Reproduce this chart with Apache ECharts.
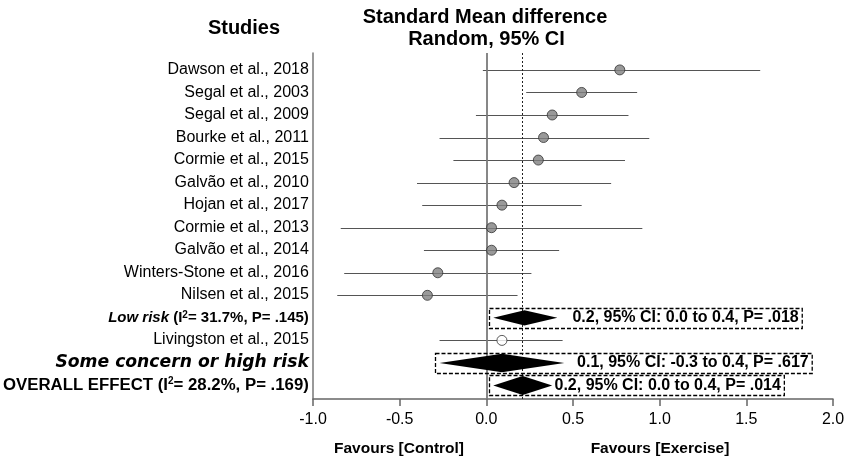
<!DOCTYPE html>
<html><head><meta charset="utf-8">
<script src="https://cdn.jsdelivr.net/npm/echarts@6/dist/echarts.min.js"></script>
<style>html,body{margin:0;padding:0;background:#fff}#c{width:854px;height:461px}</style>
</head><body><div id="c"></div>
<script>
// ---------- data ----------
const rowLabels = [
  'Dawson et al., 2018', 'Segal et al., 2003', 'Segal et al., 2009', 'Bourke et al., 2011',
  'Cormie et al., 2015', 'Galvão et al., 2010', 'Hojan et al., 2017', 'Cormie et al., 2013',
  'Galvão et al., 2014', 'Winters-Stone et al., 2016', 'Nilsen et al., 2015',
  'Low risk', 'Livingston et al., 2015', 'Some concern or high risk', 'OVERALL EFFECT'
];
const hetI2 = {11: '31.7%', 14: '28.2%'};
const hetP = {11: '.145', 14: '.169'};
const italicRows = [11, 13];
const boldRows = [11, 13, 14];

const studyRows = [0, 1, 2, 3, 4, 5, 6, 7, 8, 9, 10, 12];
const studyEst  = [0.77, 0.55, 0.38, 0.33, 0.30, 0.16, 0.09, 0.03, 0.03, -0.28, -0.34, 0.09];
const studyLow  = [-0.02, 0.23, -0.06, -0.27, -0.19, -0.40, -0.37, -0.84, -0.36, -0.82, -0.86, -0.27];
const studyHigh = [1.58, 0.87, 0.82, 0.94, 0.80, 0.72, 0.55, 0.90, 0.42, 0.26, 0.18, 0.44];
const studyHighRisk = [false, false, false, false, false, false, false, false, false, false, false, true];

const pooledRows = [11, 13, 14];
const pooledEst  = [0.22, 0.09, 0.21];
const pooledLow  = [0.04, -0.27, 0.04];
const pooledHigh = [0.41, 0.45, 0.38];
const pooledText = [
  '0.2, 95% CI: 0.0 to 0.4, P= .018',
  '0.1, 95% CI: -0.3 to 0.4, P= .617',
  '0.2, 95% CI: 0.0 to 0.4, P= .014'
];
const overallEffect = pooledEst[2];

const axisMin = -1.0, axisMax = 2.0, axisStep = 0.5;

// ---------- layout / style (not data) ----------
const FONT = '"Liberation Sans", Arial, sans-serif';
const WIDE = '"DejaVu Sans", sans-serif';
const rowFontSize = {11: 15, 13: 17.2, 14: 16.8};
const rowFontFamily = {11: FONT, 13: WIDE, 14: FONT};
const diamondHalf = [7.7, 9.2, 9.5];
const textGap = [15, 12.7, 2.3];
const boxFont = 'bold 16px "Liberation Sans", Arial, sans-serif';
const mctx = document.createElement('canvas').getContext('2d');
mctx.font = boxFont;

const chart = echarts.init(document.getElementById('c'), null, {renderer: 'canvas'});

function labelFormatter(value, index) {
  const sfx = rowFontSize[index] ? String(index) : '';
  let s;
  if (italicRows.includes(index)) s = '{bi' + sfx + '|' + value + '}';
  else if (boldRows.includes(index)) s = '{b' + sfx + '|' + value + '}';
  else s = '{r|' + value + '}';
  if (hetI2[index]) {
    s += '{b' + sfx + '| (I}{sup|2}{b' + sfx + '|= ' + hetI2[index] + ', P= ' + hetP[index] + ')}';
  }
  return s;
}

const rich = {
  r: {fontSize: 16, color: '#000', fontFamily: FONT},
  sup: {fontSize: 10, color: '#000', fontWeight: 'bold', fontFamily: FONT, verticalAlign: 'top', lineHeight: 10}
};
Object.keys(rowFontSize).forEach(k => {
  rich['b' + k] = {fontSize: rowFontSize[k], color: '#000', fontWeight: 'bold', fontFamily: rowFontFamily[k]};
  rich['bi' + k] = {fontSize: rowFontSize[k], color: '#000', fontWeight: 'bold', fontStyle: 'italic', fontFamily: rowFontFamily[k]};
});

const option = {
  animation: false,
  backgroundColor: '#fff',
  textStyle: {fontFamily: FONT},
  grid: [
    {left: 313, right: 21, top: 53, bottom: 62},
    {left: 313, right: 21, top: 58.75, height: 337.5}
  ],
  xAxis: [
    {
      gridIndex: 0, type: 'value', min: axisMin, max: axisMax, interval: axisStep,
      axisLine: {onZero: false, lineStyle: {color: '#666', width: 1.5}},
      axisTick: {length: 7, lineStyle: {color: '#666', width: 1.5}},
      axisLabel: {fontSize: 16, color: '#000', margin: 13, fontFamily: FONT,
        formatter: v => v.toFixed(1)},
      splitLine: {show: false}
    },
    {gridIndex: 1, type: 'value', min: axisMin, max: axisMax, show: false}
  ],
  yAxis: [
    {
      gridIndex: 0, type: 'value', min: -0.75, max: 14.6, inverse: true,
      axisLine: {show: true, onZero: false, lineStyle: {color: '#777', width: 1.5}},
      axisTick: {show: false}, axisLabel: {show: false}, splitLine: {show: false}
    },
    {
      gridIndex: 1, type: 'category', data: rowLabels, inverse: true,
      axisLine: {show: false}, axisTick: {show: false}, splitLine: {show: false},
      axisLabel: {interval: 0, margin: 6, formatter: labelFormatter, rich: rich}
    }
  ],
  graphic: [
    {type: 'text', x: 244, y: 28.5, style: {text: 'Studies', fontSize: 20, fontWeight: 'bold', fontFamily: FONT, fill: '#000', align: 'center', verticalAlign: 'middle'}},
    {type: 'text', x: 485, y: 17, style: {text: 'Standard Mean difference', fontSize: 20, fontWeight: 'bold', fontFamily: FONT, fill: '#000', align: 'center', verticalAlign: 'middle'}},
    {type: 'text', x: 486.5, y: 39.5, style: {text: 'Random, 95% CI', fontSize: 20, fontWeight: 'bold', fontFamily: FONT, fill: '#000', align: 'center', verticalAlign: 'middle'}},
    {type: 'text', x: 399, y: 448.5, style: {text: 'Favours [Control]', fontSize: 15.5, fontWeight: 'bold', fontFamily: FONT, fill: '#000', align: 'center', verticalAlign: 'middle'}},
    {type: 'text', x: 660, y: 448.5, style: {text: 'Favours [Exercise]', fontSize: 15.5, fontWeight: 'bold', fontFamily: FONT, fill: '#000', align: 'center', verticalAlign: 'middle'}}
  ],
  series: [
    {
      name: 'ci', type: 'custom', xAxisIndex: 0, yAxisIndex: 0, silent: true, z: 2,
      data: studyRows.map((r, i) => [studyLow[i], studyHigh[i], r]),
      encode: {x: [0, 1], y: 2},
      renderItem: function (params, api) {
        const a = api.coord([api.value(0), api.value(2)]);
        const b = api.coord([api.value(1), api.value(2)]);
        const y = Math.round(a[1]) + 0.5;
        return {type: 'line', shape: {x1: a[0], y1: y, x2: b[0], y2: y},
          style: {stroke: '#555', lineWidth: 1.2}};
      }
    },
    {
      name: 'refs', type: 'line', xAxisIndex: 0, yAxisIndex: 0, data: [], z: 3, silent: true,
      markLine: {
        silent: true, symbol: 'none', label: {show: false},
        data: [
          {xAxis: 0, lineStyle: {color: '#7a7a7a', width: 1.8, type: 'solid'}},
          {xAxis: overallEffect, lineStyle: {color: '#222', width: 1, type: [2, 2]}}
        ]
      }
    },
    {
      name: 'studies', type: 'scatter', xAxisIndex: 0, yAxisIndex: 0, z: 5, symbol: 'circle', symbolSize: 10,
      data: studyRows.map((r, i) => ({
        value: [studyEst[i], r],
        itemStyle: {color: studyHighRisk[i] ? '#ffffff' : '#808080', borderColor: '#333', borderWidth: 1}
      }))
    },
    {
      name: 'pooled', type: 'custom', xAxisIndex: 0, yAxisIndex: 0, silent: true, z: 6,
      data: pooledRows.map((r, i) => [pooledLow[i], pooledEst[i], pooledHigh[i], r, i]),
      encode: {x: [0, 1, 2], y: 3},
      renderItem: function (params, api) {
        const row = api.value(3), k = api.value(4);
        const lo = api.coord([api.value(0), row]);
        const c = api.coord([api.value(1), row]);
        const hi = api.coord([api.value(2), row]);
        const h = diamondHalf[k];
        const txt = pooledText[k];
        const tx = hi[0] + textGap[k];
        const tw = mctx.measureText(txt).width;
        const bx = Math.round(lo[0] - 4.5) + 0.5;
        const bt = Math.round(c[1] - 10) + 0.5;
        return {
          type: 'group',
          children: [
            {type: 'polygon', shape: {points: [[lo[0], c[1]], [c[0], c[1] - h], [hi[0], c[1]], [c[0], c[1] + h]]},
              style: {fill: '#000'}},
            {type: 'rect', shape: {x: bx, y: bt, width: tx + tw + 3.5 - bx, height: 20},
              style: {fill: 'none', stroke: '#000', lineWidth: 1.3, lineDash: [4, 2]}},
            {type: 'text', style: {x: tx, y: c[1], text: txt, fontSize: 16, fontWeight: 'bold',
              fontFamily: FONT, fill: '#000', align: 'left', verticalAlign: 'middle'}}
          ]
        };
      }
    }
  ]
};
chart.setOption(option);
</script>
</body></html>
